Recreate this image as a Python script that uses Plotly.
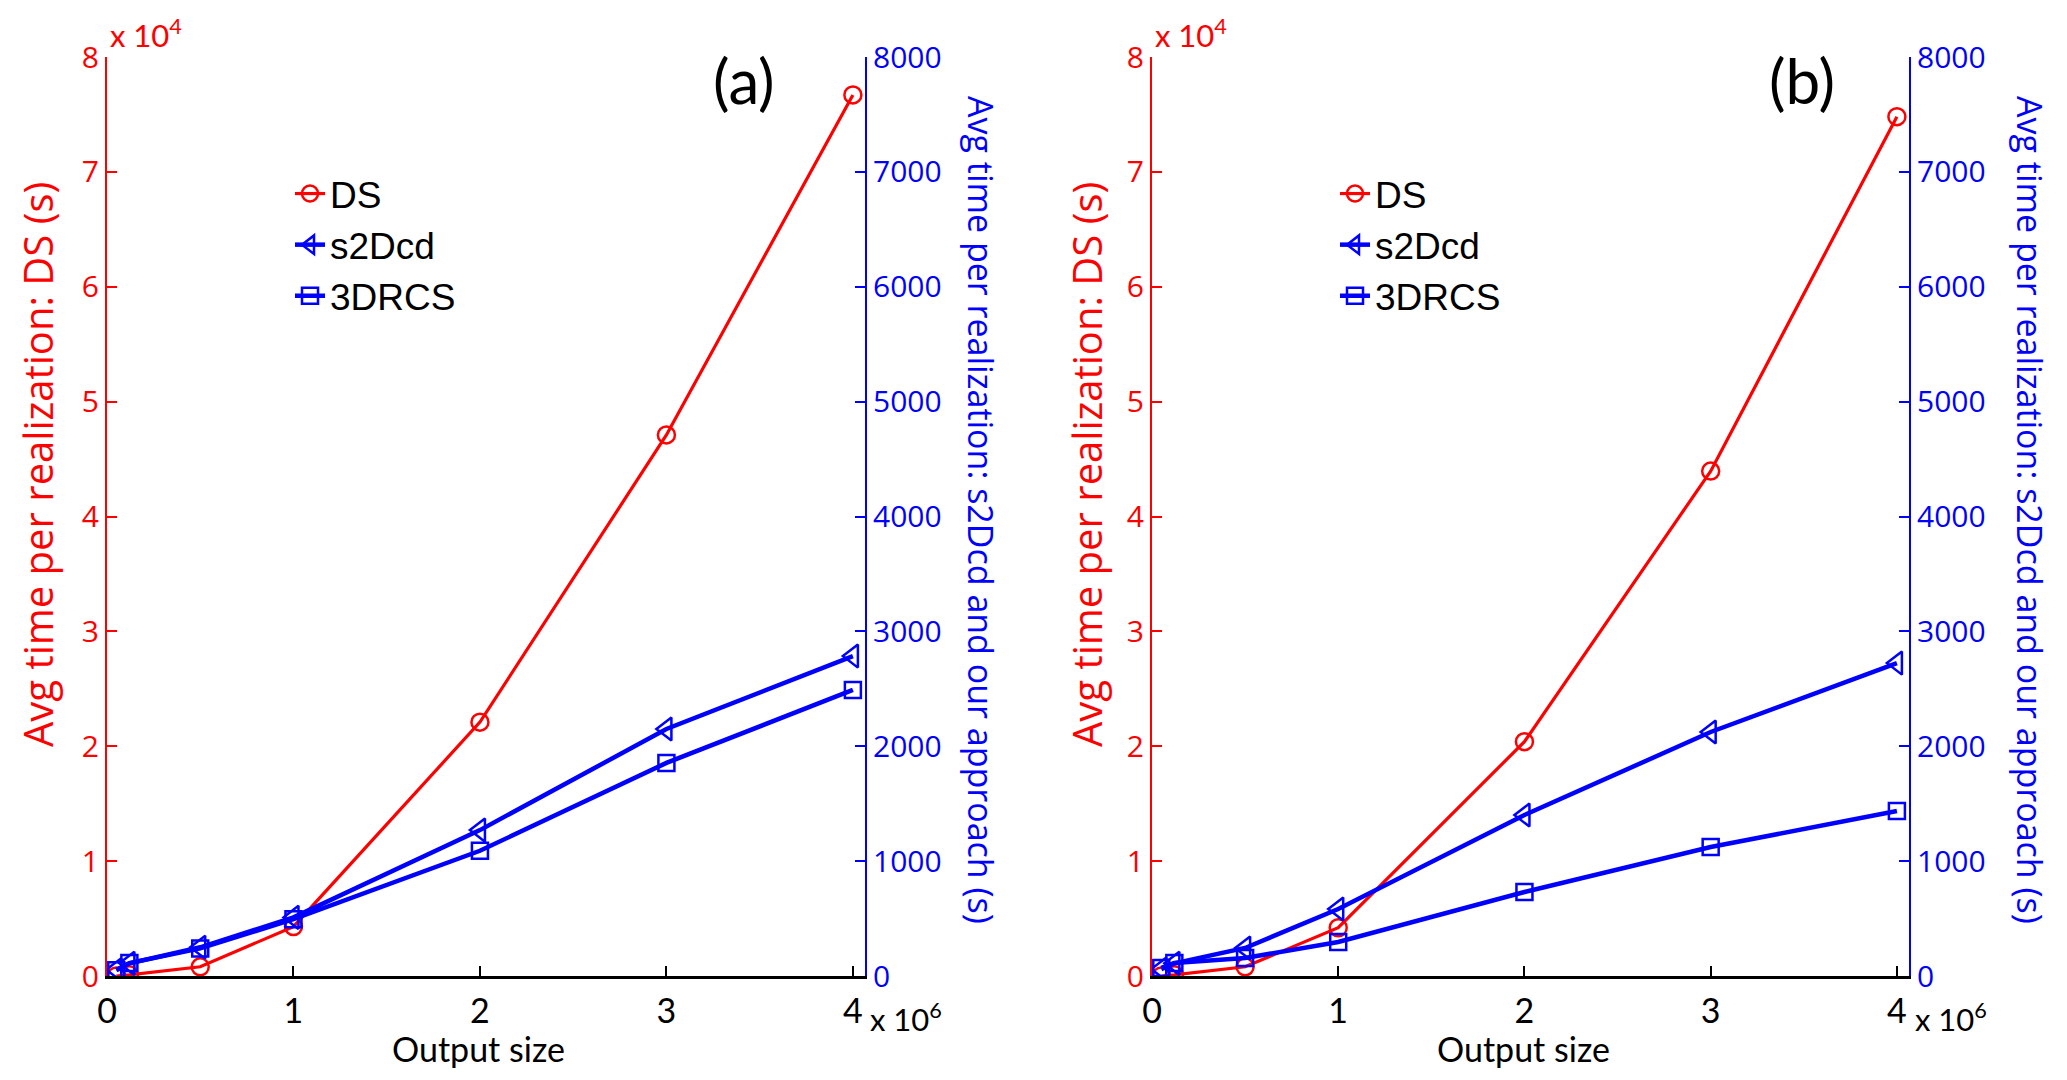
import plotly.graph_objects as go

# tamaños de salida (eje x, en unidades crudas)
output_size = [0.05e6, 0.12e6, 0.5e6, 1e6, 2e6, 3e6, 4e6]

# (a)
ds_a = [0, 100, 800, 4300, 22100, 47100, 76700]
s2dcd_a = [55, 110, 250, 510, 1270, 2150, 2785]
rcs_a = [50, 113, 240, 495, 1090, 1855, 2490]

# (b)
ds_b = [0, 100, 800, 4200, 20400, 43950, 74800]
s2dcd_b = [60, 110, 244, 583, 1401, 2124, 2724]
rcs_b = [70, 113, 157, 296, 731, 1123, 1436]

# ticks
x_tickvals = [0, 1e6, 2e6, 3e6, 4e6]
x_ticktext = ["0", "1", "2", "3", "4"]
ds_tickvals = [0, 1e4, 2e4, 3e4, 4e4, 5e4, 6e4, 7e4, 8e4]
ds_ticktext = ["0", "1", "2", "3", "4", "5", "6", "7", "8"]
our_tickvals = [0, 1000, 2000, 3000, 4000, 5000, 6000, 7000, 8000]

W, H = 2067, 1080
OFF = 8  # margen del body del navegador
RED = "#ff0000"
BLUE = "#0000ff"


def px(x):
    return (x - OFF) / W


def py(y):
    return 1 - (y - OFF) / H


# dominios (px -> paper)
dom_a = [px(107), px(865)]
dom_b = [px(1152), px(1909)]
dom_y = [py(976), py(57)]

fig = go.Figure()

paneles = [
    ("a", ds_a, s2dcd_a, rcs_a, "x", "y", "y2", "legend"),
    ("b", ds_b, s2dcd_b, rcs_b, "x2", "y3", "y4", "legend2"),
]
for nombre, ds, s2, rcs, xa, yl, yr, leg in paneles:
    fig.add_trace(go.Scatter(name="DS", x=output_size, y=ds, mode="lines+markers",
                             line=dict(color=RED, width=3.2),
                             marker=dict(symbol="circle-open", size=17, color=RED, line=dict(width=2.5)),
                             xaxis=xa, yaxis=yl, legend=leg))
    fig.add_trace(go.Scatter(name="s2Dcd", x=output_size, y=s2, mode="lines+markers",
                             line=dict(color=BLUE, width=4.5),
                             marker=dict(symbol="triangle-left-open", size=20, color=BLUE, line=dict(width=2.5)),
                             xaxis=xa, yaxis=yr, legend=leg))
    fig.add_trace(go.Scatter(name="3DRCS", x=output_size, y=rcs, mode="lines+markers",
                             line=dict(color=BLUE, width=4.5),
                             marker=dict(symbol="square-open", size=16, color=BLUE, line=dict(width=2.5)),
                             xaxis=xa, yaxis=yr, legend=leg))

eje_x = dict(range=[0, 4.065e6], tickvals=x_tickvals, ticktext=x_ticktext, automargin=False,
             showline=True, linecolor="black", linewidth=2.5, ticks="inside", ticklen=10,
             tickwidth=2, tickcolor="black", showgrid=False, zeroline=False,
             tickfont=dict(family="Lato", size=34, color="black"), ticklabelstandoff=3)
eje_izq = dict(range=[0, 80000], tickvals=ds_tickvals, ticktext=ds_ticktext, automargin=False,
               showline=True, linecolor=RED, linewidth=2, ticks="inside", ticklen=10, tickwidth=2,
               tickcolor=RED, showgrid=False, zeroline=False, domain=dom_y,
               tickfont=dict(family="Open Sans", size=30, color=RED))
eje_der = dict(range=[0, 8000], tickvals=our_tickvals, side="right", automargin=False,
               showline=True, linecolor=BLUE, linewidth=2, ticks="inside", ticklen=10, tickwidth=2,
               tickcolor=BLUE, showgrid=False, zeroline=False, domain=dom_y,
               tickfont=dict(family="Open Sans", size=30, color=BLUE))

fig.update_layout(
    xaxis=dict(eje_x, domain=dom_a, anchor="y"),
    yaxis=dict(eje_izq, anchor="x"),
    yaxis2=dict(eje_der, anchor="x", overlaying="y"),
    xaxis2=dict(eje_x, domain=dom_b, anchor="y3"),
    yaxis3=dict(eje_izq, anchor="x2"),
    yaxis4=dict(eje_der, anchor="x2", overlaying="y3"),
)

leyenda = dict(font=dict(family="Liberation Sans", size=37, color="black"),
               bgcolor="rgba(0,0,0,0)", xanchor="left", yanchor="top", tracegroupgap=0,
               itemwidth=30)
fig.update_layout(
    legend=dict(leyenda, x=px(290), y=py(163)),
    legend2=dict(leyenda, x=px(1335), y=py(163)),
)

# textos
textos = [
    # (texto, x_px, y_px, color, tamaño, fuente, ángulo, xanchor)
    ("x 10<sup>4</sup>", 108, 34, RED, 31, "Lato", 0, "left"),
    ("x 10<sup>4</sup>", 1153, 34, RED, 31, "Lato", 0, "left"),
    ("x 10<sup>6</sup>", 868, 1017, "black", 31, "Lato", 0, "left"),
    ("x 10<sup>6</sup>", 1913, 1017, "black", 31, "Lato", 0, "left"),
    ("Output size", 478, 1048, "black", 34, "Lato", 0, "center"),
    ("Output size", 1523, 1048, "black", 34, "Lato", 0, "center"),
    ("(a)", 744, 80, "black", 62, "Lato", 0, "center"),
    ("(b)", 1802, 80, "black", 62, "Lato", 0, "center"),
    ("Avg time per realization: DS (s)", 37, 465, RED, 40, "Open Sans", -90, "center"),
    ("Avg time per realization: DS (s)", 1086, 465, RED, 40, "Open Sans", -90, "center"),
    ("Avg time per realization: s2Dcd and our approach (s)", 981, 510, BLUE, 34, "Open Sans", 90, "center"),
    ("Avg time per realization: s2Dcd and our approach (s)", 2030, 510, BLUE, 34, "Open Sans", 90, "center"),
]
for txt, xp, yp, col, sz, fam, ang, xan in textos:
    fig.add_annotation(text=txt, x=px(xp), y=py(yp), xref="paper", yref="paper",
                       showarrow=False, textangle=ang, xanchor=xan, yanchor="middle",
                       font=dict(color=col, size=sz, family=fam))

fig.update_layout(width=W, height=H, margin=dict(l=0, r=0, t=0, b=0, autoexpand=False),
                  paper_bgcolor="white", plot_bgcolor="white", showlegend=True)

fig.write_html("out.html")
